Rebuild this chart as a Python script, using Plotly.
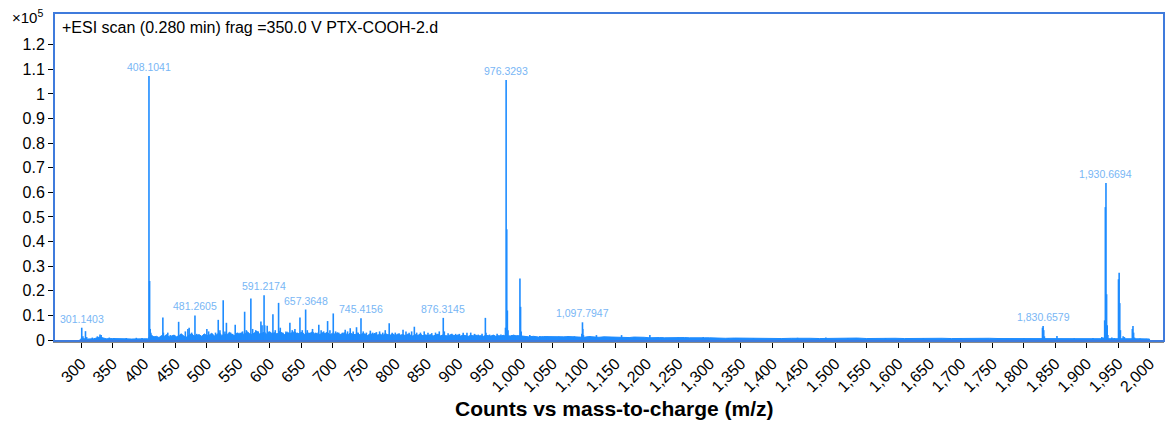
import plotly.graph_objects as go

# ---------------- data (intensity in units of 1e5 counts) ----------------
# continuous low-level profile (grass)
prof_a_mz = list(range(300, 410, 10))
prof_a = [0.006, 0.004, 0.005, 0.012, 0.005, 0.006, 0.004, 0.005, 0.004, 0.006, 0.005]

prof_b_mz = list(range(412, 1001, 4))
prof_b = [
    0.020, 0.012, 0.015, 0.010, 0.018, 0.014, 0.022, 0.012, 0.016, 0.020,
    0.013, 0.018, 0.024, 0.015, 0.012, 0.020, 0.026, 0.016, 0.018, 0.022,
    0.014, 0.025, 0.018, 0.020, 0.028, 0.016, 0.022, 0.030, 0.018, 0.024,
    0.020, 0.032, 0.022, 0.018, 0.028, 0.024, 0.030, 0.020, 0.034, 0.026,
    0.022, 0.030, 0.036, 0.024, 0.028, 0.032, 0.022, 0.034, 0.026, 0.030,
    0.024, 0.036, 0.028, 0.022, 0.032, 0.026, 0.030, 0.034, 0.024, 0.028,
    0.032, 0.022, 0.030, 0.026, 0.034, 0.024, 0.028, 0.022, 0.030, 0.026,
    0.032, 0.020, 0.028, 0.024, 0.030, 0.022, 0.026, 0.030, 0.020, 0.028,
    0.024, 0.022, 0.028, 0.020, 0.026, 0.024, 0.018, 0.026, 0.022, 0.028,
    0.020, 0.024, 0.018, 0.026, 0.022, 0.020, 0.025, 0.018, 0.024, 0.020,
    0.022, 0.018, 0.024, 0.020, 0.016, 0.022, 0.019, 0.024, 0.017, 0.021,
    0.018, 0.022, 0.016, 0.020, 0.024, 0.017, 0.021, 0.018, 0.016, 0.022,
    0.019, 0.017, 0.021, 0.016, 0.020, 0.018, 0.015, 0.019, 0.017, 0.020,
    0.016, 0.018, 0.015, 0.019, 0.017, 0.016, 0.020, 0.015, 0.018, 0.016,
    0.019, 0.015, 0.017, 0.016, 0.020, 0.017, 0.018, 0.016,
]

prof_c_mz = list(range(1004, 1301, 8))
prof_c = [
    0.016, 0.013, 0.015, 0.012, 0.014, 0.013, 0.015, 0.012, 0.013, 0.014,
    0.012, 0.013, 0.011, 0.014, 0.012, 0.011, 0.013, 0.012, 0.010, 0.012,
    0.011, 0.010, 0.012, 0.010, 0.011, 0.009, 0.011, 0.010, 0.009, 0.010,
    0.011, 0.009, 0.010, 0.009, 0.010, 0.008, 0.009, 0.009,
]

prof_d_mz = list(range(1310, 2001, 15))
prof_d = [
    0.008, 0.007, 0.008, 0.007, 0.006, 0.008, 0.007, 0.006, 0.007, 0.008,
    0.007, 0.006, 0.007, 0.006, 0.007, 0.008, 0.006, 0.007, 0.006, 0.007,
    0.006, 0.007, 0.006, 0.006, 0.007, 0.006, 0.007, 0.006, 0.006, 0.007,
    0.006, 0.006, 0.007, 0.006, 0.005, 0.006, 0.006, 0.005, 0.006, 0.007,
    0.008, 0.007, 0.007, 0.006, 0.005, 0.005, 0.004,
]

# centroid peaks (sticks)
peak_mz = [
    301.14, 303.0, 307.1, 309.0, 318.0, 326.0, 330.2, 332.0, 345.0, 352.0, 372.0, 388.0, 397.0,
    408.10, 409.1, 410.1, 411.1, 416.0, 430.2, 431.0, 438.0, 442.0, 447.0, 455.3, 459.0,
    466.0, 470.0, 472.0, 476.0, 481.26, 484.0, 490.0, 494.0, 500.2, 503.0, 509.0, 514.0,
    518.3, 521.0, 526.2, 529.0, 531.3, 538.0, 541.0, 545.3, 549.0, 553.0, 557.0, 560.3,
    563.0, 566.0, 570.2, 573.0, 578.0, 582.0, 586.2, 588.0, 591.22, 592.2, 596.2, 599.0,
    605.3, 609.0, 614.3, 617.0, 621.0, 626.0, 632.3, 636.0, 640.3, 644.0, 648.3, 652.0,
    657.36, 660.0, 664.0, 668.3, 673.0, 678.3, 682.0, 686.0, 692.3, 696.0, 701.3, 705.0,
    710.0, 716.0, 720.3, 724.0, 728.3, 733.0, 738.3, 741.0, 745.42, 749.0, 754.0, 760.3,
    764.0, 770.0, 775.0, 780.0, 784.0, 790.3, 795.0, 800.0, 806.0, 812.3, 817.0, 822.0,
    826.0, 830.3, 834.0, 840.0, 846.0, 852.0, 858.0, 864.0, 870.0, 876.31, 878.0, 884.0,
    890.0, 896.0, 902.0, 908.0, 914.0, 920.0, 926.0, 932.0, 938.0, 943.3, 944.3, 950.0,
    956.0, 962.0, 968.0, 972.0, 975.3, 976.33, 977.33, 978.3, 979.3, 985.0, 990.0,
    998.31, 999.31, 1000.3, 1006.0, 1014.0, 1020.0, 1030.0, 1042.0, 1060.0, 1075.0,
    1085.0, 1096.8, 1097.79, 1098.3, 1099.3, 1110.0, 1120.0, 1140.0, 1160.0, 1180.0,
    1205.0, 1225.0, 1250.0, 1290.0, 1330.0, 1370.0, 1440.0, 1485.0, 1520.0, 1580.0,
    1640.0, 1700.0, 1760.0, 1800.0, 1829.66, 1830.66, 1831.66, 1832.7, 1852.7, 1880.0,
    1910.0, 1924.0, 1926.0, 1928.6, 1929.67, 1930.67, 1931.67, 1932.67, 1933.7, 1940.0,
    1944.0, 1950.6, 1951.65, 1952.65, 1953.65, 1958.0, 1960.0, 1972.6, 1973.64, 1974.64,
    1976.0, 1985.0, 1995.0,
]
peak_int = [
    0.050, 0.015, 0.036, 0.012, 0.010, 0.015, 0.022, 0.020, 0.010, 0.008, 0.008, 0.009, 0.008,
    1.073, 0.240, 0.045, 0.030, 0.015, 0.092, 0.030, 0.030, 0.020, 0.018, 0.074, 0.025,
    0.035, 0.045, 0.050, 0.030, 0.100, 0.025, 0.020, 0.018, 0.045, 0.035, 0.025, 0.030,
    0.082, 0.040, 0.162, 0.035, 0.070, 0.030, 0.025, 0.062, 0.030, 0.030, 0.035, 0.115,
    0.040, 0.030, 0.169, 0.045, 0.040, 0.035, 0.075, 0.060, 0.182, 0.060, 0.058, 0.035,
    0.105, 0.040, 0.151, 0.050, 0.030, 0.035, 0.070, 0.040, 0.045, 0.030, 0.092, 0.040,
    0.124, 0.040, 0.030, 0.045, 0.030, 0.062, 0.040, 0.035, 0.077, 0.040, 0.108, 0.035,
    0.030, 0.030, 0.042, 0.035, 0.048, 0.035, 0.052, 0.030, 0.088, 0.035, 0.030, 0.038,
    0.030, 0.032, 0.035, 0.030, 0.040, 0.068, 0.030, 0.030, 0.028, 0.042, 0.035, 0.030,
    0.035, 0.054, 0.030, 0.030, 0.035, 0.030, 0.028, 0.030, 0.035, 0.090, 0.035, 0.028,
    0.025, 0.025, 0.025, 0.030, 0.030, 0.030, 0.025, 0.022, 0.025, 0.090, 0.030, 0.022,
    0.020, 0.025, 0.022, 0.020, 0.050, 1.057, 0.450, 0.120, 0.040, 0.020, 0.018,
    0.250, 0.135, 0.035, 0.015, 0.020, 0.014, 0.016, 0.014, 0.014, 0.016,
    0.015, 0.025, 0.072, 0.045, 0.020, 0.014, 0.020, 0.012, 0.020, 0.010,
    0.020, 0.010, 0.010, 0.012, 0.008, 0.008, 0.009, 0.010, 0.008, 0.008,
    0.008, 0.008, 0.008, 0.007, 0.050, 0.057, 0.040, 0.015, 0.016, 0.007,
    0.008, 0.012, 0.010, 0.080, 0.540, 0.638, 0.186, 0.060, 0.020, 0.010,
    0.008, 0.247, 0.273, 0.150, 0.040, 0.015, 0.012, 0.045, 0.057, 0.030,
    0.010, 0.006, 0.005,
]

# labelled peaks
label_mz = [301.1403, 408.1041, 481.2605, 591.2174, 657.3648, 745.4156, 876.3145,
            976.3293, 1097.7947, 1830.6579, 1930.6694]
label_y = [0.050, 1.073, 0.100, 0.182, 0.124, 0.088, 0.090, 1.057, 0.072, 0.057, 0.638]

x_ticks = list(range(300, 2001, 50))
y_ticks = [0, 0.1, 0.2, 0.3, 0.4, 0.5, 0.6, 0.7, 0.8, 0.9, 1.0, 1.1, 1.2]
y_tick_text = ["0", "0.1", "0.2", "0.3", "0.4", "0.5", "0.6", "0.7", "0.8", "0.9", "1", "1.1", "1.2"]

# ---------------- figure ----------------
BLUE = "#1e8cff"
LABEL = "#78b6f5"
FONT = "Liberation Sans, Arial, sans-serif"

prof_x = [298] + prof_a_mz + [406] + prof_b_mz + prof_c_mz + prof_d_mz + [2000]
prof_y = [0] + prof_a + [0.005] + prof_b + prof_c + prof_d + [0]

fig = go.Figure()
fig.add_trace(go.Scatter(x=prof_x, y=prof_y, mode="lines", fill="tozeroy",
                         line=dict(color=BLUE, width=1), fillcolor=BLUE,
                         hoverinfo="skip", showlegend=False))

sx, sy = [], []
for m, h in zip(peak_mz, peak_int):
    sx += [m, m, None]
    sy += [0, h, None]
fig.add_trace(go.Scatter(x=sx, y=sy, mode="lines", line=dict(color=BLUE, width=1.6),
                         hoverinfo="skip", showlegend=False))

for m, h in zip(label_mz, label_y):
    fig.add_annotation(x=m, y=h, xref="x", yref="y", text=f"{m:,.4f}",
                       showarrow=False, yanchor="bottom", yshift=1,
                       font=dict(family=FONT, size=10.5, color=LABEL))

fig.add_annotation(x=0.0055, y=0.955, xref="paper", yref="paper",
                   text="+ESI scan (0.280 min) frag =350.0 V PTX-COOH-2.d",
                   showarrow=False, xanchor="left", yanchor="middle",
                   font=dict(family=FONT, size=16, color="black"))
fig.add_annotation(x=-0.04, y=0.99, xref="paper", yref="paper",
                   text="×10<sup>5</sup>", showarrow=False, xanchor="left", yanchor="middle",
                   font=dict(family=FONT, size=15, color="black"))
fig.add_annotation(x=0.505, y=-0.207, xref="paper", yref="paper",
                   text="<b>Counts vs mass-to-charge (m/z)</b>", showarrow=False,
                   xanchor="center", yanchor="middle",
                   font=dict(family=FONT, size=21, color="black"))

fig.add_shape(type="rect", xref="paper", yref="paper", x0=0, y0=0, x1=1, y1=1,
              line=dict(color="#3f7bdc", width=2))

fig.update_layout(
    width=1165, height=421,
    margin=dict(l=54, r=1, t=13, b=80),
    paper_bgcolor="white", plot_bgcolor="white",
    font=dict(family=FONT, size=16, color="black"),
    xaxis=dict(range=[257, 2023], tickvals=x_ticks, tickformat=",d", tickangle=-45,
               showgrid=False, zeroline=False, showline=True, linecolor="#8a8a8a",
               linewidth=2, ticks="outside", ticklen=5, tickcolor="black",
               tickfont=dict(family=FONT, size=16)),
    yaxis=dict(range=[-0.004, 1.329], tickvals=y_ticks, ticktext=y_tick_text,
               showgrid=False, zeroline=False, showline=True, linecolor="#8a8a8a",
               linewidth=1, ticks="outside", ticklen=5, tickcolor="black",
               tickfont=dict(family=FONT, size=16)),
)

fig.write_html("out.html", config={"displayModeBar": False},
               post_script="document.body.style.margin='0';")
